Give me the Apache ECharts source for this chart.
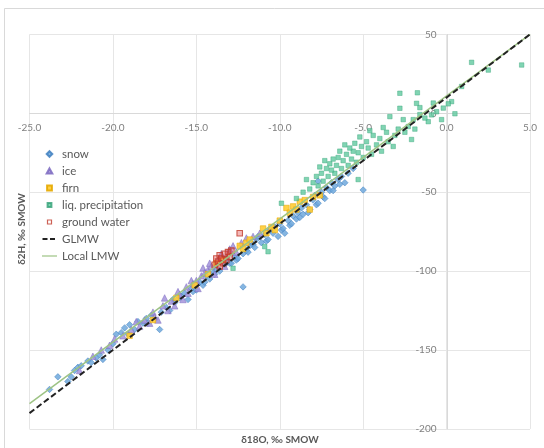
<!DOCTYPE html>
<html><head><meta charset="utf-8">
<script src="https://cdn.jsdelivr.net/npm/echarts@6/dist/echarts.min.js"></script>
<style>html,body{margin:0;padding:0;background:#fff}#c{width:544px;height:448px}</style>
</head><body><div id="c"></div>
<script>
// tick settings
const xMin = -25, xMax = 5, xStep = 5;
const yMin = -200, yMax = 50, yStep = 50;

// δ18O, δ2H pairs per series
const snow = [[-23.8,-175],[-23.3,-167],[-22.7,-170],[-22.5,-167],[-22.3,-163],[-22.1,-161],[-21.9,-160],[-21.5,-157],[-21.3,-158],[-21.0,-155],[-20.8,-153],[-20.6,-156],[-20.3,-150],[-20.0,-146],[-19.8,-140],[-19.5,-139],[-19.3,-136],[-19.1,-140],[-19.0,-134],[-18.7,-137],[-18.5,-132],[-18.2,-133],[-18.0,-130],[-17.9,-133],[-17.7,-128],[-17.2,-137],[-17.1,-126],[-16.8,-123],[-16.6,-125],[-16.4,-118],[-16.3,-120],[-16.0,-117],[-15.9,-116],[-15.7,-114],[-15.5,-118],[-15.3,-111],[-15.2,-113],[-15.0,-112],[-14.8,-107],[-14.6,-109],[-14.5,-107],[-14.4,-103],[-14.2,-105],[-14.0,-101],[-13.9,-102],[-13.8,-99],[-13.6,-100],[-13.3,-96],[-13.1,-94],[-13.0,-95],[-12.9,-95],[-12.7,-91],[-12.6,-93],[-12.5,-92],[-12.2,-89],[-12.2,-110],[-12.0,-87],[-11.9,-88],[-11.8,-84],[-11.6,-83],[-11.5,-85],[-11.4,-80],[-11.3,-78],[-11.1,-82],[-10.9,-77],[-10.8,-81],[-10.7,-80],[-10.6,-74],[-10.4,-76],[-10.3,-72],[-10.1,-78],[-10.0,-70],[-9.9,-74],[-9.8,-73],[-9.7,-76],[-9.5,-68],[-9.4,-71],[-9.3,-70],[-9.2,-65],[-9.0,-67],[-8.9,-63],[-8.8,-66],[-8.7,-60],[-8.6,-64],[-8.4,-58],[-8.3,-63],[-8.2,-61],[-8.0,-55],[-7.9,-52],[-7.8,-58],[-7.7,-57],[-7.5,-50],[-7.4,-53],[-7.3,-54],[-7.2,-47],[-7.0,-49],[-6.9,-44],[-6.8,-49],[-6.7,-46],[-6.5,-42],[-6.4,-45],[-6.3,-40],[-6.1,-44],[-5.9,-38],[-5.6,-35],[-5.0,-48.6],[-7.7,-43]];
const ice = [[-22.0,-163],[-21.2,-154],[-20.7,-150],[-20.2,-147],[-19.9,-143],[-19.4,-141],[-18.9,-137],[-18.6,-132],[-18.4,-135],[-18.1,-131],[-17.8,-133],[-17.6,-126],[-17.5,-129],[-17.3,-131],[-17.0,-122],[-16.9,-117],[-16.7,-125],[-16.5,-119],[-16.3,-122],[-16.1,-113],[-16.0,-115],[-15.8,-118],[-15.6,-110],[-15.5,-114],[-15.3,-106],[-15.2,-108],[-15.0,-106],[-14.9,-111],[-14.7,-103],[-14.6,-98],[-14.5,-101],[-14.3,-99],[-14.2,-95],[-14.1,-97],[-13.9,-102],[-13.8,-96],[-13.7,-93],[-13.5,-89],[-13.3,-97],[-13.2,-91],[-13.0,-86],[-12.8,-84],[-12.6,-88],[-12.3,-82],[-12.0,-79],[-11.6,-78],[-11.2,-76]];
const firn = [[-19.0,-141],[-17.6,-131],[-16.2,-117],[-15.1,-109],[-14.3,-102],[-13.8,-95],[-13.4,-93],[-12.4,-84],[-12.2,-86],[-12.0,-82],[-11.8,-80],[-11.0,-73],[-10.8,-76],[-10.5,-72],[-10.3,-74],[-10.0,-68],[-9.6,-60],[-9.4,-63],[-9.2,-59],[-9.0,-61],[-8.8,-56],[-8.5,-55],[-8.2,-61],[-8.0,-53],[-7.6,-52]];
const liqPrecip = [[4.5,30.6],[2.5,27.4],[1.5,32.3],[0.9,17],[0.5,-0.3],[0.3,7.4],[0.1,6],[-0.2,3.3],[-0.3,-4],[-0.6,1],[-0.8,6.5],[-0.9,-1],[-1.1,-5.3],[-1.3,-3],[-1.6,3.6],[-1.6,-0.8],[-1.75,13],[-1.8,6.3],[-1.9,-10],[-2.0,-4],[-2.1,-16.6],[-2.3,-8.4],[-2.5,-12],[-2.6,-4],[-2.8,12.7],[-2.8,3.2],[-2.9,-10],[-3.1,-14],[-3.2,-21],[-3.4,-2.1],[-3.5,-18],[-3.6,-12],[-3.8,-9],[-3.9,-24],[-4.0,-16],[-4.2,-20],[-4.4,-14],[-4.5,-26],[-4.6,-11],[-4.7,-22],[-4.8,-18],[-5.0,-28],[-5.1,-21],[-5.2,-15],[-5.3,-25],[-5.3,-42],[-5.4,-31],[-5.5,-19],[-5.6,-24],[-5.7,-29],[-5.8,-22],[-5.9,-33],[-6.0,-26],[-6.1,-20],[-6.2,-30],[-6.3,-35],[-6.4,-24],[-6.5,-28],[-6.6,-33],[-6.7,-38],[-6.8,-29],[-6.9,-36],[-7.0,-32],[-7.1,-40],[-7.2,-35],[-7.3,-30],[-7.4,-43],[-7.5,-38],[-7.6,-34],[-7.7,-46],[-7.8,-40],[-8.0,-44],[-8.2,-48],[-8.4,-42],[-8.6,-50],[-9.0,-54],[-9.9,-57],[-10.7,-87.7],[-10.9,-84.5],[-12.8,-98.2]];
const groundWater = [[-13.9,-96],[-13.8,-92],[-13.7,-94],[-13.6,-97],[-13.6,-90],[-13.5,-92],[-13.4,-95],[-13.3,-89],[-13.2,-93],[-13.1,-88],[-13.0,-91],[-12.9,-87],[-12.4,-76]];
// meteoric water lines (end points)
const lineX = [-25, 5];
const glmwY = [-190, 50];
const lmwY = [-184, 50];

const glmw = lineX.map((x, i) => [x, glmwY[i]]);
const lmw = lineX.map((x, i) => [x, lmwY[i]]);

const FONT = 'Lato';
const GRID = {left: 29.5, right: 14, top: 34.4, bottom: 19.1};
const W = 544, H = 448;
const chart = echarts.init(document.getElementById('c'), null, {renderer: 'canvas'});
const axisCommon = {
  type: 'value',
  axisLine: {show: true, onZero: false, lineStyle: {color: '#d9d9d9', width: 1}},
  axisTick: {show: false},
  splitLine: {show: true, lineStyle: {color: '#e6e6e6', width: 1}}
};
chart.setOption({
  animation: false,
  backgroundColor: '#ffffff',
  textStyle: {fontFamily: FONT},
  grid: Object.assign({containLabel: false}, GRID),
  xAxis: Object.assign({}, axisCommon, {
    min: xMin, max: xMax, interval: xStep, position: 'bottom', offset: 0,
    axisLabel: {formatter: v => v.toFixed(1), color: '#808080', fontSize: 10, margin: 9, fontFamily: FONT}
  }),
  yAxis: Object.assign({}, axisCommon, {
    min: yMin, max: yMax, interval: yStep, position: 'left', offset: 0,
    axisLabel: {color: '#808080', fontSize: 10, margin: 11, fontFamily: FONT}
  }),
  legend: {
    orient: 'vertical', left: 36, top: 143, itemWidth: 15, itemHeight: 10, itemGap: 5,
    selectedMode: false,
    textStyle: {color: '#595959', fontSize: 11.5, lineHeight: 12, fontFamily: FONT},
    data: [
      {name: 'snow', icon: 'path://M0,0M15,10M7.5,2.2L10.3,5L7.5,7.8L4.7,5Z'},
      {name: 'ice', icon: 'path://M0,0M15,10M7.5,2.4L10.3,7.4L4.7,7.4Z'},
      {name: 'firn', icon: 'path://M0,0M15,10M5.1,2.6H9.9V7.4H5.1Z'},
      {name: 'liq. precipitation', icon: 'path://M0,0M15,10M5.6,3.1H9.4V6.9H5.6Z'},
      {name: 'ground water', icon: 'path://M0,0M15,10M4.9,2.4H10.1V7.6H4.9Z M6.1,3.6V6.4H8.9V3.6Z', itemStyle: {color: '#c0392b', borderWidth: 0}},
      {name: 'GLMW', icon: 'path://M0,0M15,10M0.5,4H5.5V6H0.5Z M8,4H13V6H8Z', itemStyle: {color: '#222222', borderWidth: 0}},
      {name: 'Local LMW', icon: 'path://M0,0M15,10M0,4.4H15V5.6H0Z', itemStyle: {color: '#9dc384', borderWidth: 0}}
    ]
  },
  graphic: [
    {type: 'rect', z: -10, shape: {x: 4.5, y: 8.5, width: 600, height: 600}, style: {fill: 'none', stroke: '#d9d9d9', lineWidth: 1}},
    {type: 'text', x: 280, y: 440, style: {text: 'δ18O, ‰ SMOW', fontSize: 10, fontWeight: 'bold', fontFamily: FONT, fill: '#595959', align: 'center', verticalAlign: 'middle'}},
    {type: 'text', x: 22, y: 229, rotation: Math.PI / 2, style: {text: 'δ2H, ‰ SMOW', fontSize: 10, fontWeight: 'bold', fontFamily: FONT, fill: '#595959', align: 'center', verticalAlign: 'middle'}}
  ],
  series: [
    {name: 'snow', type: 'scatter', data: snow, symbol: 'diamond', symbolSize: 6.5,
      itemStyle: {color: '#6fa8dc', borderColor: '#3f7fbf', borderWidth: 0.6, opacity: 0.85}},
    {name: 'ice', type: 'scatter', data: ice, symbol: 'triangle', symbolSize: 6.5,
      itemStyle: {color: '#a393da', borderColor: '#7b68c0', borderWidth: 0.6, opacity: 0.85}},
    {name: 'firn', type: 'scatter', data: firn, symbol: 'rect', symbolSize: 5.5,
      itemStyle: {color: '#ffcc33', borderColor: '#e6a800', borderWidth: 0.6, opacity: 0.9}},
    {name: 'liq. precipitation', type: 'scatter', data: liqPrecip, symbol: 'rect', symbolSize: 4.5,
      itemStyle: {color: '#62c9a0', borderColor: '#2f9f74', borderWidth: 0.5, opacity: 0.8}},
    {name: 'ground water', type: 'scatter', data: groundWater, symbol: 'rect', symbolSize: 5.5,
      itemStyle: {color: 'rgba(225,60,60,0.45)', borderColor: '#c0392b', borderWidth: 1.1}},
    {name: 'Local LMW', type: 'line', data: lmw, symbol: 'none', z: 4,
      itemStyle: {color: '#9dc384'}, lineStyle: {color: '#9dc384', width: 1.5}},
    {name: 'GLMW', type: 'line', data: glmw, symbol: 'none', z: 5,
      itemStyle: {color: '#222222'}, lineStyle: {color: '#222222', width: 2, type: [6, 3]}}
  ]
});
// move both axes so that they cross at the data origin (0, 0)
const origin = chart.convertToPixel({gridIndex: 0}, [0, 0]);
const gridBottomPx = H - GRID.bottom;
const gridLeftPx = GRID.left;
chart.setOption({
  xAxis: {offset: -(gridBottomPx - origin[1])},
  yAxis: {offset: -(origin[0] - gridLeftPx)}
});
</script></body></html>
